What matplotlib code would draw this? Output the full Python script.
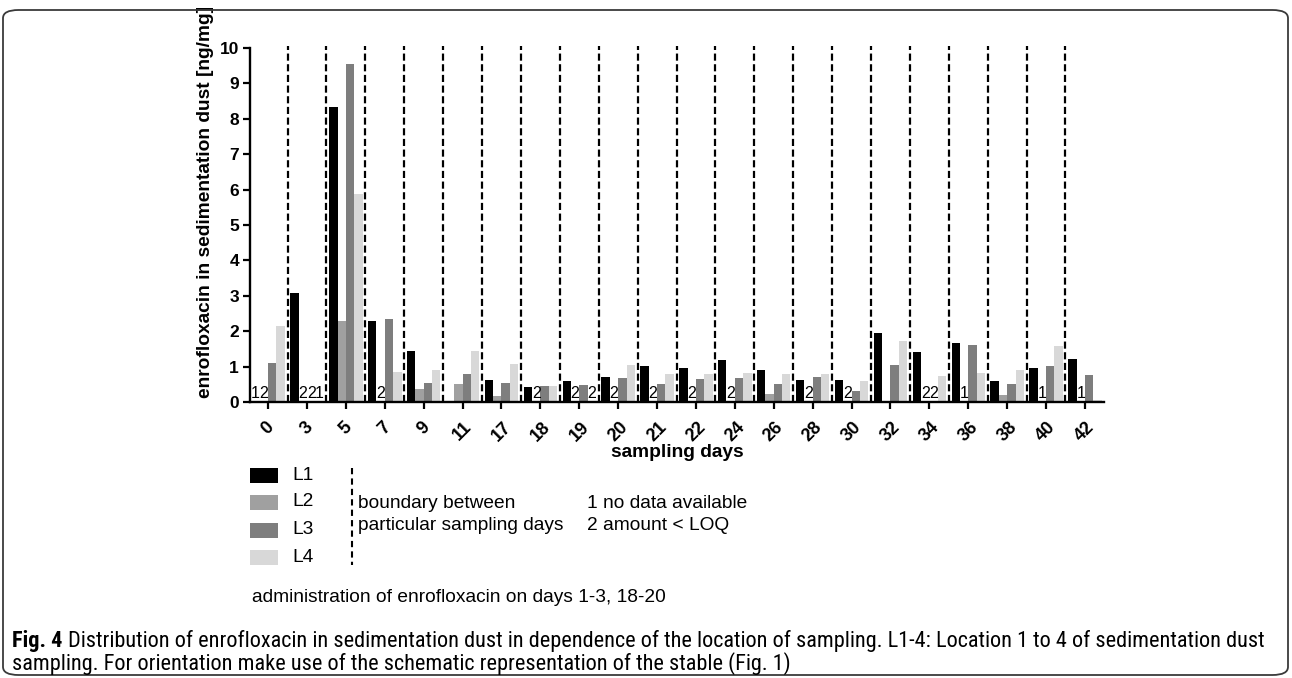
import numpy as np
import matplotlib
matplotlib.use("Agg")
import matplotlib.pyplot as plt
from matplotlib import font_manager
from matplotlib.patches import Rectangle, FancyBboxPatch
from matplotlib.lines import Line2D

# sampling days and enrofloxacin amounts [ng/mg] per location (nan = no bar)
days = [0, 3, 5, 7, 9, 11, 17, 18, 19, 20, 21, 22, 24, 26, 28, 30, 32, 34, 36, 38, 40, 42]
nan = np.nan
L1 = [nan, 3.07, 8.34, 2.28, 1.45, nan, 0.63, 0.42, 0.59, 0.70, 1.02, 0.97, 1.18, 0.91, 0.63, 0.62, 1.96, 1.42, 1.68, 0.58, 0.96, 1.22]
L2 = [nan, nan, 2.30, nan, 0.38, 0.50, 0.17, nan, nan, nan, nan, nan, nan, 0.24, nan, nan, nan, nan, nan, 0.20, nan, nan]
L3 = [1.09, nan, 9.55, 2.35, 0.55, 0.80, 0.55, 0.45, 0.48, 0.67, 0.50, 0.64, 0.67, 0.52, 0.70, 0.30, 1.05, nan, 1.61, 0.52, 1.03, 0.77]
L4 = [2.14, nan, 5.88, 0.84, 0.91, 1.43, 1.08, 0.45, nan, 1.05, 0.80, 0.80, 0.83, 0.80, 0.79, 0.58, 1.72, 0.73, 0.83, 0.91, 1.57, 0.07]

# footnote marks at the baseline: 1 = no data available, 2 = amount < LOQ
L1_note = ["1", "", "", "", "", "", "", "", "", "", "", "", "", "", "", "", "", "", "", "", "", ""]
L2_note = ["2", "2", "", "2", "", "", "", "2", "2", "2", "2", "2", "2", "", "2", "2", "", "2", "1", "", "1", "1"]
L3_note = ["", "2", "", "", "", "", "", "", "", "", "", "", "", "", "", "", "", "2", "", "", "", ""]
L4_note = ["", "1", "", "", "", "", "", "", "2", "", "", "", "", "", "", "", "", "", "", "", "", ""]

series = ["L1", "L2", "L3", "L4"]
values = [L1, L2, L3, L4]
notes = [L1_note, L2_note, L3_note, L4_note]
colors = ["#000000", "#a0a0a0", "#7e7e7e", "#d8d8d8"]

caption_bold = "Fig. 4"
caption_1 = ("Distribution of enrofloxacin in sedimentation dust in dependence of the location of "
             "sampling. L1-4: Location 1 to 4 of sedimentation dust")
caption_2 = "sampling. For orientation make use of the schematic representation of the stable (Fig. 1)"


def pick_font(candidates):
    names = {f.name for f in font_manager.fontManager.ttflist}
    for c in candidates:
        if c in names:
            return c
    return "DejaVu Sans"


sans = pick_font(["Liberation Sans", "Arial", "DejaVu Sans"])
narrow = pick_font(["Liberation Sans Narrow", "Roboto Condensed", "Liberation Sans"])
plt.rcParams["font.family"] = [sans, "DejaVu Sans"]

W, H = 1292, 678
fig = plt.figure(figsize=(W / 100, H / 100), dpi=100)


def px(x, y):
    """pixel position (from top-left) to figure fraction"""
    return x / W, 1 - y / H


# rounded frame around the whole figure
frame = FancyBboxPatch(px(3, 675), 1285 / W, 665 / H,
                       boxstyle="round,pad=0,rounding_size=0.012",
                       transform=fig.transFigure, fill=False,
                       edgecolor="#3a3a3a", linewidth=1.3)
fig.patches.append(frame)

ax = fig.add_axes([250 / W, 1 - 402 / H, 854 / W, 354 / H])

x = np.arange(len(days))
width = 0.215
for k, (name, vals, col) in enumerate(zip(series, values, colors)):
    pos = x + (k - 1.5) * width
    ax.bar(pos, vals, width=width, color=col, edgecolor="none", label=name)
    for p, n in zip(pos, notes[k]):
        if n:
            ax.text(p, 0.02, n, ha="center", va="bottom", fontsize=11.5)

# dashed boundaries between sampling days
ax.vlines(x[:-1] + 0.5, 0, 10.05, colors="black", linewidth=1.6,
          linestyles=(0, (3.2, 1.6)), clip_on=False)

ax.set_xlim(-0.465, len(days) - 0.51)
ax.set_ylim(0, 10)
ax.set_yticks(range(0, 11))
ax.set_xticks(x)
ax.set_xticklabels([str(d) for d in days], rotation=45, ha="center", va="top",
                   fontweight="bold", fontsize=13)
for lab in ax.get_yticklabels():
    lab.set_fontweight("bold")
    lab.set_fontsize(12.5)
ax.tick_params(axis="both", direction="out", length=5, width=1.6, pad=3)
ax.tick_params(axis="x", pad=7)
for s in ["top", "right"]:
    ax.spines[s].set_visible(False)
for s in ["left", "bottom"]:
    ax.spines[s].set_linewidth(1.7)

ax.set_ylabel("enrofloxacin in sedimentation dust [ng/mg]", fontweight="bold", fontsize=13.8)
ax.yaxis.set_label_coords(-0.052, 0.565)
ax.yaxis.label.set_va("center")
ax.set_xlabel("sampling days", fontweight="bold", fontsize=13.8)
ax.xaxis.set_label_coords(0.5, -0.143)
ax.xaxis.label.set_va("center")

# legend drawn by hand, like the original layout
legend_y = [475, 502, 530, 557]
for name, col, yy in zip(series, colors, legend_y):
    x0, y0 = px(250, yy + 7.5)
    fig.patches.append(Rectangle((x0, y0), 28 / W, 15 / H, transform=fig.transFigure,
                                 facecolor=col, edgecolor="none"))
    fig.text(*px(292, yy), name, ha="left", va="center", fontsize=13.8)

fig.lines.append(Line2D([352 / W, 352 / W], [1 - 468 / H, 1 - 565 / H], transform=fig.transFigure,
                        color="black", linewidth=1.5, linestyle=(0, (3, 2))))
fig.text(*px(358, 503), "boundary between", ha="left", va="center", fontsize=13.8)
fig.text(*px(358, 526), "particular sampling days", ha="left", va="center", fontsize=13.8)
fig.text(*px(587, 503), "1 no data available", ha="left", va="center", fontsize=13.8)
fig.text(*px(587, 526), "2 amount < LOQ", ha="left", va="center", fontsize=13.8)
fig.text(*px(252, 598), "administration of enrofloxacin on days 1-3, 18-20", ha="left", va="center",
         fontsize=13.8)

# figure caption
cap_size = 16
t1 = fig.text(*px(12, 641), caption_bold, ha="left", va="center", fontsize=cap_size,
              fontweight="bold", family=[narrow, "DejaVu Sans"])
plt.annotate(caption_1, xy=(1, 0.5), xycoords=t1, xytext=(4, 0), textcoords="offset points",
             ha="left", va="center", fontsize=cap_size, family=[narrow, "DejaVu Sans"],
             annotation_clip=False)
fig.text(*px(12, 664), caption_2, ha="left", va="center", fontsize=cap_size,
         family=[narrow, "DejaVu Sans"])

fig.savefig("out.png", dpi=100)
